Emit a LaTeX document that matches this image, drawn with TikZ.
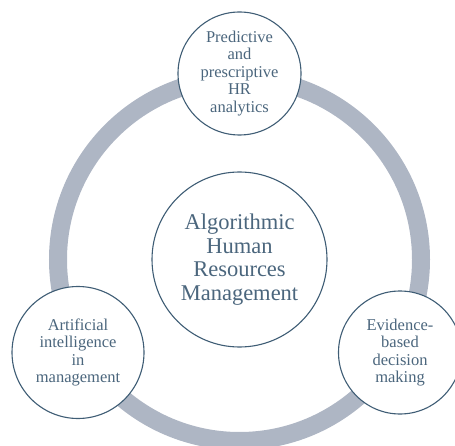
\documentclass[tikz,border=0pt]{standalone}
\usepackage{fontspec}
\setmainfont{Liberation Serif}
\definecolor{ringgrey}{HTML}{AEB6C4}
\definecolor{rimblue}{HTML}{3F5D75}
\definecolor{textblue}{HTML}{4B667D}

\begin{document}
\begin{tikzpicture}[x=1pt,y=-1pt,
		idea/.style={circle,draw=rimblue,line width=1.1pt,fill=white,text=textblue,align=center,inner sep=0pt,minimum size=123pt,font=\fontsize{16.5}{17.5}\selectfont},
		core/.style={idea,minimum size=175pt,font=\fontsize{22.5}{23.7}\selectfont}]
			\useasboundingbox (0,0) rectangle (455,446);
			\coordinate (o) at (239.5,259.5);
			\draw[ringgrey,line width=18pt] (o) circle[radius=181.5pt];
			\node[core] (hub) at (o) {Algorithmic\\Human\\Resources\\Management};
			\node[idea] (v1) at (239.5,73.5) {Predictive\\and\\prescriptive\\HR\\analytics};
			\node[idea,minimum size=132pt] (v2) at (78,352.5) {Artificial\\intelligence\\in\\management};
			\node[idea] (v3) at (400,352.5) {Evidence-\\based\\decision\\making};
		\end{tikzpicture}
\end{document}
